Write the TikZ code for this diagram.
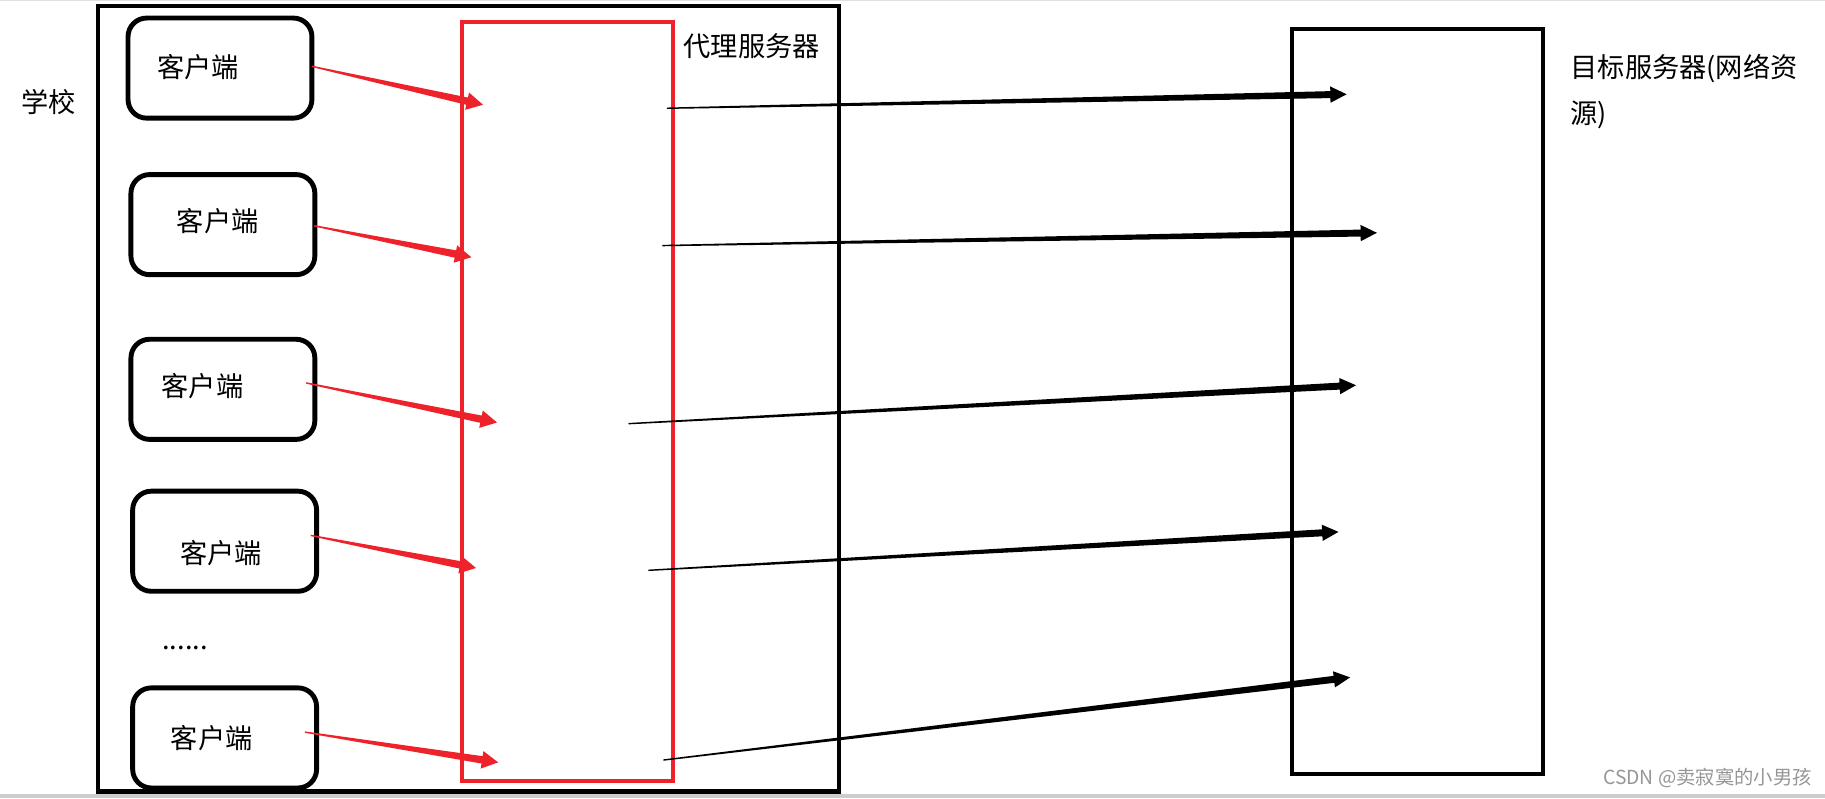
\documentclass[tikz,border=0pt]{standalone}
\usepackage{fontspec}
\setmainfont{Noto Sans CJK SC}
\usetikzlibrary{calc}
\definecolor{myred}{RGB}{238,34,42}
\definecolor{wmgray}{RGB}{150,150,150}
\definecolor{stripgray}{RGB}{205,205,205}
\newcommand\taperarrow[7]{%
  \path ($(#3)!#6!(#2)$) coordinate (tac);
  \fill[#1] ($(#2)!#4!90:(#3)$) -- ($(tac)!#5!90:(#3)$) -- ($(tac)!#7!90:(#3)$) -- (#3)
    -- ($(tac)!#7!-90:(#3)$) -- ($(tac)!#5!-90:(#3)$) -- ($(#2)!#4!-90:(#3)$) -- cycle;
}
\begin{document}
\begin{tikzpicture}[x=0.5pt,y=-0.5pt,
  bigbox/.style={draw=black,line width=1.75pt,inner sep=0pt},
  proxybox/.style={draw=myred,line width=1.75pt,inner sep=0pt},
  clientbox/.style={draw=black,line width=2.1pt,rounded corners=8pt,inner sep=0pt,minimum width=79pt,minimum height=43pt},
  lbl/.style={inner sep=0pt,font=\fontsize{11.7}{20}\selectfont},
  wm/.style={inner sep=0pt,text=wmgray,font=\fontsize{8.3}{10}\selectfont}
]
\useasboundingbox (0,0) rectangle (1568,686);
\fill[white] (0,0) rectangle (1568,686);
\fill[stripgray] (0,682) rectangle (1568,686);
\fill[black!12] (0,0) rectangle (1568,1);

% containers
\node[bigbox,minimum width=318.5pt,minimum height=337.5pt] (school) at (402.5,342.5) {};
\node[proxybox,minimum width=90.5pt,minimum height=326pt] (proxy) at (487.5,345) {};
\node[bigbox,minimum width=108pt,minimum height=320pt] (target) at (1218,345) {};

% clients
\node[clientbox] (c1) at (189,58.5) {};
\node[clientbox] (c2) at (191.5,193) {};
\node[clientbox] (c3) at (191.5,334.5) {};
\node[clientbox] (c4) at (193,465) {};
\node[clientbox] (c5) at (193,634) {};
\node[lbl] (t1) at (170,58) {客户端};
\node[lbl] (t2) at (187,190) {客户端};
\node[lbl] (t3) at (174,332) {客户端};
\node[lbl] (t4) at (190,475) {客户端};
\node[lbl] (t5) at (182,634) {客户端};
\node[lbl] (dots) at (159,557) {......};

% labels
\node[lbl,anchor=west] (lschool) at (18,88) {学校};
\node[lbl,anchor=west] (lproxy) at (587,40) {代理服务器};
\node[lbl,anchor=north west,align=left] (ltarget) at (1349,46) {目标服务器(网络资\\源)};
\node[wm,anchor=south east] (wmark) at (1557,677) {CSDN @卖寂寞的小男孩};

% arrow end points
\coordinate (ra1) at (268,57);  \coordinate (rb1) at (415,90);
\coordinate (ra2) at (270,194); \coordinate (rb2) at (405,221);
\coordinate (ra3) at (263,329); \coordinate (rb3) at (427,363);
\coordinate (ra4) at (267,460); \coordinate (rb4) at (409,488);
\coordinate (ra5) at (262,629); \coordinate (rb5) at (428,655);

\coordinate (ka1) at (573,93);  \coordinate (kb1) at (1157,81);
\coordinate (ka2) at (569,211); \coordinate (kb2) at (1183,200);
\coordinate (ka3) at (540,364); \coordinate (kb3) at (1165,331);
\coordinate (ka4) at (557,490); \coordinate (kb4) at (1150,457);
\coordinate (ka5) at (570,653); \coordinate (kb5) at (1160,582);

% red arrows
\foreach \i in {1,...,5}{
  \taperarrow{myred}{ra\i}{rb\i}{0.3pt}{1.6pt}{7pt}{3.8pt}
}
% black arrows
\foreach \i in {1,...,5}{
  \taperarrow{black}{ka\i}{kb\i}{0.3pt}{1.5pt}{7pt}{3.5pt}
}
\end{tikzpicture}
\end{document}
